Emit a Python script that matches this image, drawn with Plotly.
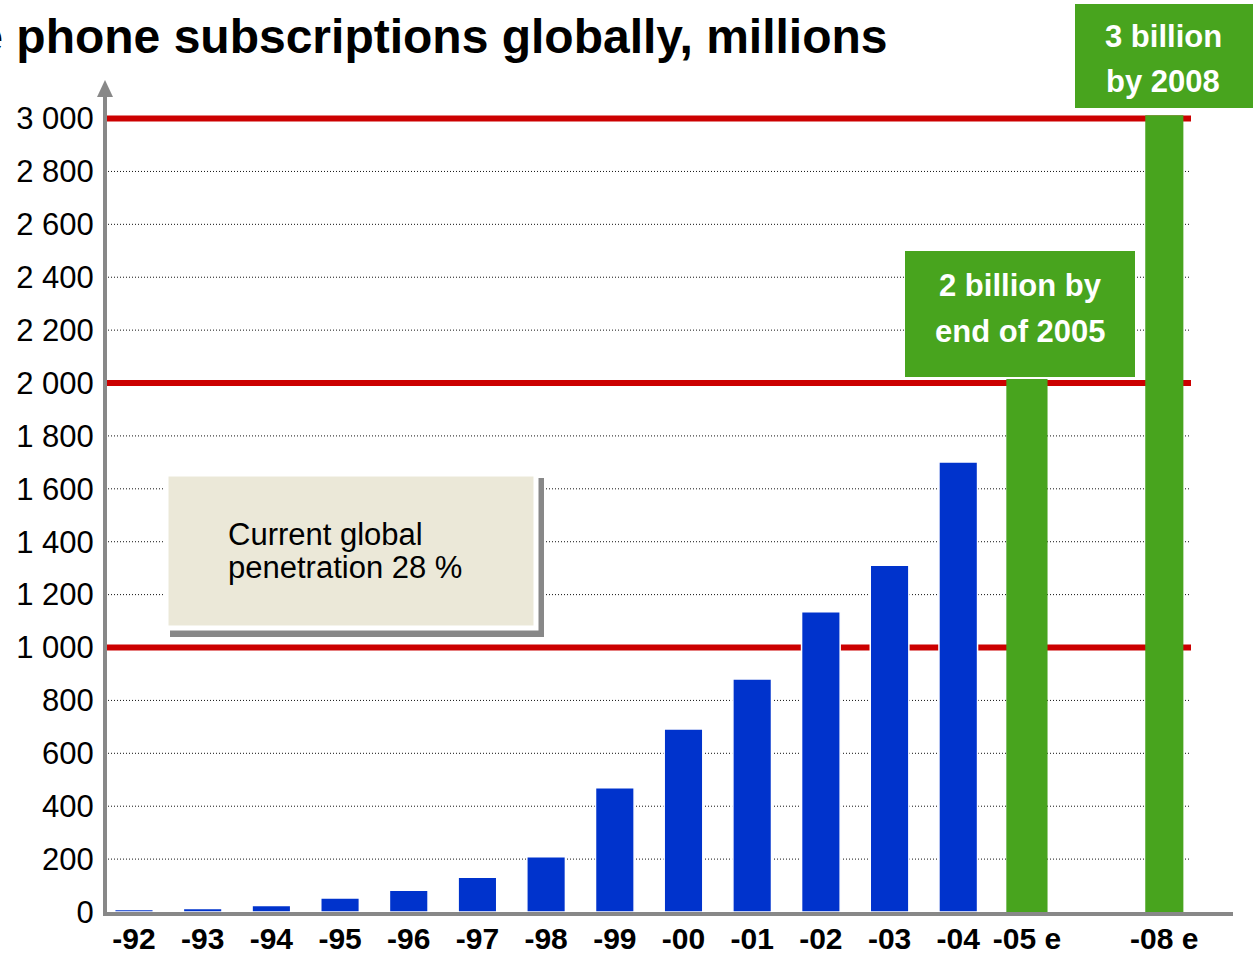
import plotly.graph_objects as go

# ---------------- data ----------------
hist_labels = ["-92", "-93", "-94", "-95", "-96", "-97", "-98", "-99",
               "-00", "-01", "-02", "-03", "-04"]
hist_values = [9, 13, 25, 53, 82, 131, 209, 470, 692, 881, 1135, 1311, 1701]

est_labels = ["-05 e", "-08 e"]
est_values = [2015, 3012]

spacer_label = " "  # empty slot between -05 e and -08 e
category_order = hist_labels + [est_labels[0], spacer_label, est_labels[1]]

y_tick_values = [0, 200, 400, 600, 800, 1000, 1200, 1400, 1600, 1800,
                 2000, 2200, 2400, 2600, 2800, 3000]
y_tick_labels = ["0", "200", "400", "600", "800", "1 000", "1 200", "1 400",
                 "1 600", "1 800", "2 000", "2 200", "2 400", "2 600",
                 "2 800", "3 000"]
milestone_values = [1000, 2000, 3000]

title_text = "Mobile phone subscriptions globally, millions"
penetration_lines = ["Current global", "penetration 28 %"]
callout_2005 = ["2 billion by", "end of 2005"]
callout_2008 = ["3 billion", "by 2008"]

# ---------------- layout geometry ----------------
W, H = 1253, 957
PL, PR, PT, PB = 107, 20, 95, 45
plot_w = W - PL - PR
plot_h = H - PT - PB


def fx(px):
    return (px - PL) / plot_w


def fy(py):
    return (H - PB - py) / plot_h


FONT = "Liberation Sans, Arial, sans-serif"
BLUE = "#0033CC"
GREEN = "#48A41E"
RED = "#CC0000"
GREY = "#888888"
BEIGE = "#EBE8D8"

fig = go.Figure()

fig.add_trace(go.Bar(
    x=hist_labels, y=hist_values,
    marker=dict(color=BLUE, line=dict(color="white", width=1.5)),
    width=0.562, hoverinfo="x+y", showlegend=False,
))
fig.add_trace(go.Bar(
    x=est_labels, y=est_values,
    marker=dict(color=GREEN, line=dict(width=0)),
    width=[0.6, 0.555], hoverinfo="x+y", showlegend=False,
))

shapes = []
# dotted grid lines and red milestone lines
for v in y_tick_values:
    if v == 0:
        continue
    if v in milestone_values:
        shapes.append(dict(type="line", xref="paper", yref="y",
                           x0=fx(107), x1=fx(1191), y0=v, y1=v,
                           line=dict(color=RED, width=6), layer="below"))
    else:
        shapes.append(dict(type="line", xref="paper", yref="y",
                           x0=fx(108), x1=fx(1190), y0=v, y1=v,
                           line=dict(color="#111111", width=1, dash="1px,2px"),
                           layer="below"))

# arrow head on y axis
tip = (fx(105), fy(80))
bl = (fx(97), fy(97))
br = (fx(113), fy(97))
shapes.append(dict(type="path", xref="paper", yref="paper",
                   path=f"M {tip[0]},{tip[1]} L {bl[0]},{bl[1]} L {br[0]},{br[1]} Z",
                   fillcolor=GREY, line=dict(width=0), layer="above"))

# penetration box with shadow
shapes.append(dict(type="rect", xref="paper", yref="paper",
                   x0=fx(170), x1=fx(544), y0=fy(637), y1=fy(478),
                   fillcolor=GREY, line=dict(width=0), layer="above"))
shapes.append(dict(type="rect", xref="paper", yref="paper",
                   x0=fx(166), x1=fx(536), y0=fy(628), y1=fy(474),
                   fillcolor=BEIGE, line=dict(color="white", width=5), layer="above"))

# green callout boxes
shapes.append(dict(type="rect", xref="paper", yref="paper",
                   x0=fx(905), x1=fx(1135), y0=fy(377), y1=fy(251),
                   fillcolor=GREEN, line=dict(width=0), layer="above"))
shapes.append(dict(type="rect", xref="paper", yref="paper",
                   x0=fx(1075), x1=fx(1253), y0=fy(108), y1=fy(4),
                   fillcolor=GREEN, line=dict(width=0), layer="above"))

annotations = []
annotations.append(dict(text=title_text, xref="paper", yref="paper",
                        x=fx(890), y=fy(36.5), xanchor="right", yanchor="middle",
                        showarrow=False,
                        font=dict(family=FONT, size=48, color="black", weight="bold")))

for line, base in zip(penetration_lines, [545, 578]):
    annotations.append(dict(text=line, xref="paper", yref="paper",
                            x=fx(226), y=fy(base - 10.8), xanchor="left",
                            yanchor="middle", showarrow=False,
                            font=dict(family=FONT, size=31, color="black")))

for line, base in zip(callout_2005, [296.7, 342.7]):
    annotations.append(dict(text=line, xref="paper", yref="paper",
                            x=fx(1020), y=fy(base - 10.8), xanchor="center",
                            yanchor="middle", showarrow=False,
                            font=dict(family=FONT, size=31, color="white", weight="bold")))

for line, base in zip(callout_2008, [47.7, 92.7]):
    annotations.append(dict(text=line, xref="paper", yref="paper",
                            x=fx(1163), y=fy(base - 10.8), xanchor="center",
                            yanchor="middle", showarrow=False,
                            font=dict(family=FONT, size=31, color="white", weight="bold")))

fig.update_layout(
    width=W, height=H,
    margin=dict(l=PL, r=PR, t=PT, b=PB, pad=0, autoexpand=False),
    paper_bgcolor="white", plot_bgcolor="white",
    barmode="overlay",
    shapes=shapes, annotations=annotations,
    showlegend=False,
    xaxis=dict(type="category", categoryorder="array", categoryarray=category_order,
               range=[-0.393, 16.0], showline=True, linecolor=GREY, linewidth=4,
               showgrid=False, zeroline=False, ticks="", ticklabelstandoff=-3,
               automargin=False,
               tickfont=dict(family=FONT, size=30, color="black", weight="bold"),
               fixedrange=True),
    yaxis=dict(range=[0, 3089], tickvals=y_tick_values, ticktext=y_tick_labels,
               showline=True, linecolor=GREY, linewidth=4, showgrid=False,
               zeroline=False, ticks="", ticklabelstandoff=3, automargin=False,
               tickfont=dict(family=FONT, size=31, color="black"),
               fixedrange=True),
)

fig.write_html(
    "out.html",
    config={"displayModeBar": False},
    post_script="document.body.style.margin='0';document.body.style.overflow='hidden';",
)
